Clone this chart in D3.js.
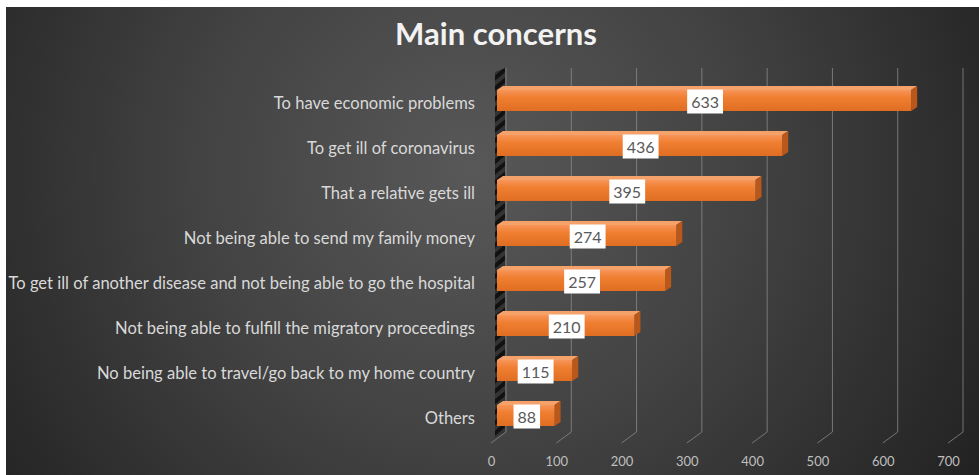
<!DOCTYPE html>
<html><head><meta charset="utf-8">
<script src="https://cdn.jsdelivr.net/npm/d3@7"></script>
<style>html,body{margin:0;padding:0;background:#fff;}svg{display:block;}</style>
</head><body>
<script>
const categories = [
  "To have economic problems",
  "To get ill of coronavirus",
  "That a relative gets ill",
  "Not being able to send my family money",
  "To get ill of another disease and not being able to go the hospital",
  "Not being able to fulfill the migratory proceedings",
  "No being able to travel/go back to my home country",
  "Others"
];
const values = [633, 436, 395, 274, 257, 210, 115, 88];
const tickValues = [0, 100, 200, 300, 400, 500, 600, 700];
const title = "Main concerns";

const W = 979, H = 475;
const svg = d3.select("body").append("svg").attr("width", W).attr("height", H);
const defs = svg.append("defs");

const bg = defs.append("radialGradient").attr("id","bg")
  .attr("gradientUnits","userSpaceOnUse").attr("cx",470).attr("cy",170).attr("r",620);
bg.append("stop").attr("offset","0").attr("stop-color","#585858");
bg.append("stop").attr("offset","0.45").attr("stop-color","#424242");
bg.append("stop").attr("offset","1").attr("stop-color","#1f1f1f");

const barG = defs.append("linearGradient").attr("id","barg").attr("x1",0).attr("y1",0).attr("x2",0).attr("y2",1);
barG.append("stop").attr("offset","0").attr("stop-color","#f7955a");
barG.append("stop").attr("offset","0.35").attr("stop-color","#f07f32");
barG.append("stop").attr("offset","1").attr("stop-color","#e06e22");

const hatch = defs.append("pattern").attr("id","hatch").attr("patternUnits","userSpaceOnUse")
  .attr("width",8).attr("height",8).attr("patternTransform","rotate(-40)");
hatch.append("rect").attr("width",8).attr("height",8).attr("fill","#333");
hatch.append("rect").attr("width",8).attr("height",4).attr("fill","#111");

svg.append("rect").attr("x",6).attr("y",7).attr("width",W-6).attr("height",H-7).attr("fill","url(#bg)");

// scales
const xBack = d3.scaleLinear().domain([0,700]).range([506,963]);
const xFront = d3.scaleLinear().domain([0,700]).range([491,948]);
const xBar = d3.scaleLinear().domain([0,700]).range([497,955]);
const y = d3.scaleBand().domain(categories).range([78,438]).paddingInner(0.533).paddingOuter(0.2665);
const gridTop = 68, backBottom = 432, frontBottom = 443;

// left wall
svg.append("polygon")
  .attr("points", `${xBar(0)-2},${gridTop+4} ${xBack(0)-1},${gridTop} ${xBack(0)-1},${backBottom} ${xBar(0)-2},${backBottom+6}`)
  .attr("fill","url(#hatch)");

// gridlines
const grid = svg.append("g");
tickValues.forEach(t => {
  grid.append("path")
    .attr("d", `M${xBack(t)},${gridTop} L${xBack(t)},${backBottom} L${xFront(t)},${frontBottom}`)
    .attr("fill","none").attr("stroke", "#8c8c8c").attr("stroke-width",0.9).attr("opacity",0.85);
});

// x axis tick labels
const xAxis = d3.axisBottom(xFront).tickValues(tickValues).tickSize(0).tickPadding(0);
const ax = svg.append("g").attr("transform",`translate(0,${frontBottom+14})`).call(xAxis);
ax.select(".domain").remove();
ax.selectAll("text").attr("fill","#bfbfbf").attr("font-family","Lato, 'Open Sans', sans-serif").attr("font-size",13);

// bars
const dx = 6, dy = -4;
const bars = svg.append("g");
categories.forEach((c,i) => {
  const v = values[i];
  const x0 = xBar(0), x1 = xBar(v), yt = y(c), bh = y.bandwidth();
  bars.append("polygon")
    .attr("points", `${x0},${yt} ${x0+dx},${yt+dy} ${x1+dx},${yt+dy} ${x1},${yt}`)
    .attr("fill","#f4a26a");
  bars.append("polygon")
    .attr("points", `${x1},${yt} ${x1+dx},${yt+dy} ${x1+dx},${yt+bh+dy} ${x1},${yt+bh}`)
    .attr("fill","#b9581a");
  bars.append("rect").attr("x",x0).attr("y",yt).attr("width",x1-x0).attr("height",bh).attr("fill","url(#barg)");
});

// value labels
const vl = svg.append("g");
categories.forEach((c,i) => {
  const v = values[i];
  const cx = (xBar(0)+xBar(v))/2 + 1, cy = y(c) + y.bandwidth()/2 + 1;
  const g = vl.append("g");
  const t = g.append("text").attr("x",cx).attr("y",cy).attr("text-anchor","middle").attr("dominant-baseline","central")
    .attr("font-family","Lato, 'Open Sans', sans-serif").attr("font-size",16).attr("fill","#595959").text(v);
  const bb = t.node().getBBox();
  g.insert("rect","text").attr("x",bb.x-4).attr("y",cy-12).attr("width",bb.width+8).attr("height",24).attr("fill","#ffffff");
});

// category labels
const yAxis = d3.axisLeft(y).tickSize(0).tickPadding(0);
const ay = svg.append("g").attr("transform","translate(475,3)").call(yAxis);
ay.select(".domain").remove();
ay.selectAll("text").attr("fill","#d9d9d9").attr("font-family","Lato, 'Open Sans', sans-serif").attr("font-size",14);
let maxW = 0;
ay.selectAll("text").each(function(){ maxW = Math.max(maxW, this.getComputedTextLength()); });
const fs = 14 * 467 / maxW;
ay.selectAll("text").attr("font-size", fs);

// title
const tt = svg.append("text").attr("x",496).attr("y",45).attr("text-anchor","middle")
  .attr("font-family","Lato, 'Open Sans', sans-serif").attr("font-weight","bold").attr("font-size",24)
  .attr("fill","#f2f2f2").text(title);
const tw = tt.node().getComputedTextLength();
tt.attr("font-size", 24 * 202 / tw);
</script>
</body></html>
